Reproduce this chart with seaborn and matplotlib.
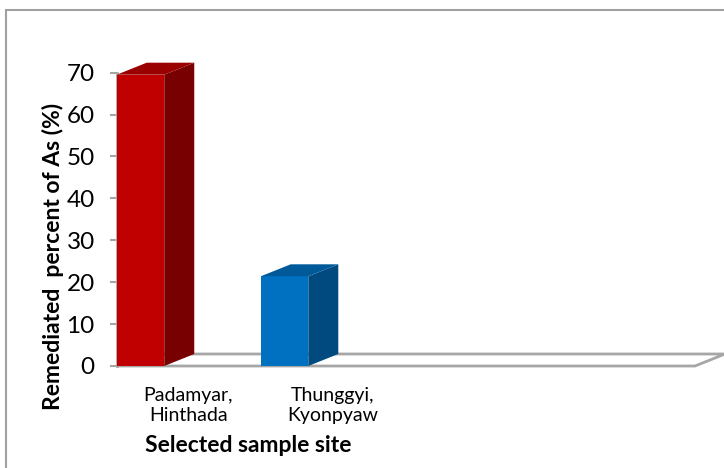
import pandas as pd
import seaborn as sns
import matplotlib
matplotlib.use('Agg')
from matplotlib import pyplot as plt
from matplotlib.patches import Polygon, Rectangle
from matplotlib.transforms import ScaledTranslation

# data
sites = ['Padamyar,\nHinthada', 'Thunggyi,\nKyonpyaw']
remediated = [69.5, 21.4]
front_colors = ['#C00000', '#0070C0']
side_colors = ['#780000', '#004A80']
top_colors = ['#9A0000', '#005A9A']

df = pd.DataFrame({'site': sites, 'pct': remediated})

sns.set_style('white')
plt.rcParams['font.family'] = ['Lato', 'DejaVu Sans']
plt.rcParams['text.color'] = 'black'

fig = plt.figure(figsize=(7.24, 4.68), dpi=100)
ax = fig.add_axes([117 / 724, 102 / 468, 578 / 724, 293.4 / 468])

sns.barplot(data=df, x='site', y='pct', hue='site', palette=front_colors,
            width=0.33, legend=False, ax=ax, saturation=1, zorder=3,
            edgecolor='none', linewidth=0)

ax.set_xlim(-0.163, 3.85)
ax.set_ylim(0, 70)
ax.set_yticks(range(0, 71, 10))

# depth of the fake 3d boxes, in data units
dx, dy = 30 / 144, 12 / 4.19

# floor outline
x0, x1 = ax.get_xlim()
floor = Polygon([(x0, 0), (x1, 0), (x1 + dx, dy), (x0 + dx, dy)], closed=True,
                fill=False, edgecolor='#A6A6A6', lw=2, clip_on=False, zorder=1)
ax.add_patch(floor)

for bar, sc, tc in zip(ax.patches[:2], side_colors, top_colors):
    bx, bw, bh = bar.get_x(), bar.get_width(), bar.get_height()
    side = Polygon([(bx + bw, 0), (bx + bw + dx, dy), (bx + bw + dx, bh + dy), (bx + bw, bh)],
                   closed=True, facecolor=sc, edgecolor='none', clip_on=False, zorder=3)
    top = Polygon([(bx, bh), (bx + bw, bh), (bx + bw + dx, bh + dy), (bx + dx, bh + dy)],
                  closed=True, facecolor=tc, edgecolor='none', clip_on=False, zorder=3)
    ax.add_patch(side)
    ax.add_patch(top)
    bar.set_clip_on(False)

sns.despine(ax=ax, top=True, right=True, bottom=True)
ax.spines['left'].set_color('#A6A6A6')
ax.spines['left'].set_linewidth(2)
ax.tick_params(axis='y', which='both', left=True, length=5, width=1.5, color='#A6A6A6',
               labelsize=17.5, pad=11, labelcolor='black')
ax.tick_params(axis='x', length=0, labelsize=14, pad=15, labelcolor='black')

# category labels sit to the right of the bar fronts in the original
for lab in ax.get_xticklabels():
    lab.set_transform(lab.get_transform() + ScaledTranslation(48 / 100, 0, fig.dpi_scale_trans))
    lab.set_linespacing(1.2)

ax.set_xlabel('')
ax.set_ylabel('')
fig.text(248 / 724, 1 - 446 / 468, 'Selected sample site', fontsize=16.5, fontweight='bold',
         ha='center', va='center')
fig.text(53 / 724, 1 - 256 / 468, 'Remediated  percent of As (%)', fontsize=16.5,
         fontweight='bold', rotation=90, ha='center', va='center')

# chart border
fig.patches.append(Rectangle((6 / 724, -0.05), 1.0, 1 - 10 / 468 + 0.05, transform=fig.transFigure,
                             fill=False, edgecolor='#A0A0A0', lw=1.5))

fig.savefig('out.png', dpi=100)
